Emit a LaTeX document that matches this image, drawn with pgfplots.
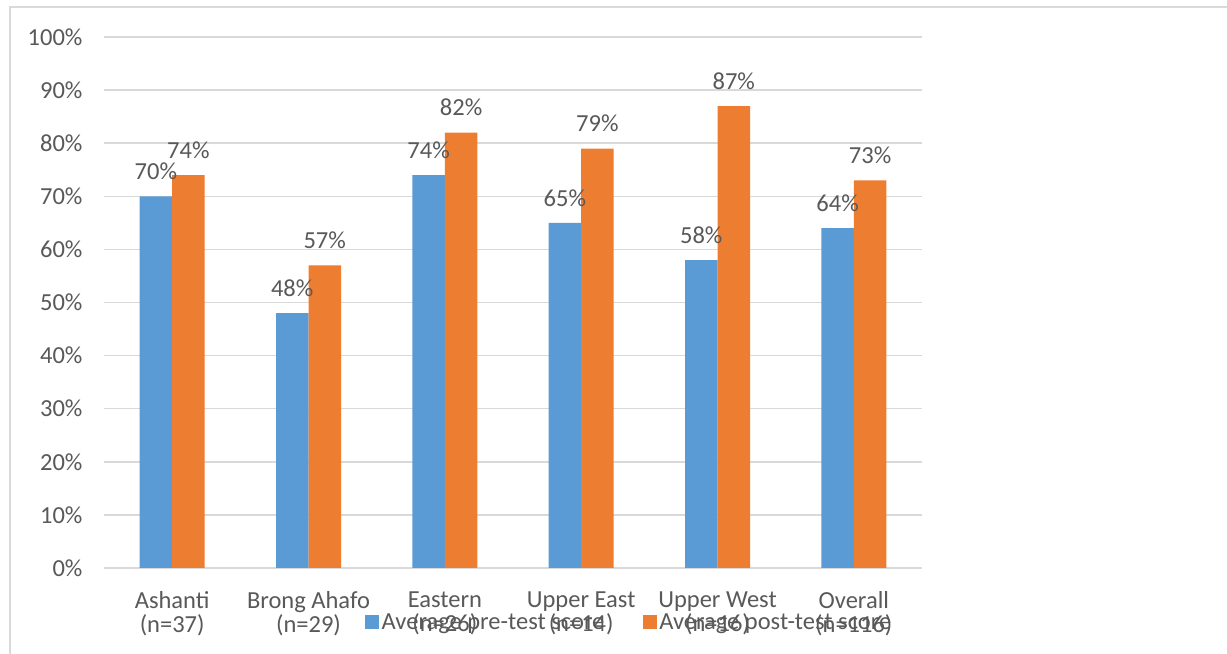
\documentclass[border=0pt]{standalone}
\usepackage{pgfplots}
\pgfplotsset{compat=1.18}
\usepackage{fontspec}
\setmainfont{Carlito}
\definecolor{cblue}{HTML}{5B9BD5}
\definecolor{corange}{HTML}{ED7D31}
\definecolor{cgrid}{HTML}{D9D9D9}
\definecolor{ctext}{HTML}{595959}
\begin{document}
\begin{tikzpicture}
\useasboundingbox (0,0) rectangle (1227bp,654bp);
\fill[white] (0,0) rectangle (1227bp,654bp);
\draw[cgrid, line width=2bp] (10bp,0) -- (10bp,647bp) -- (1227bp,647bp);
\begin{axis}[
  at={(104bp,86bp)}, anchor=south west,
  scale only axis, width=818bp, height=531bp,
  ybar=0pt, bar width=32.5bp,
  xmin=-0.5, xmax=5.5, ymin=0, ymax=100,
  xtick=data,
  xticklabels={{Ashanti\\(n=37)},{Brong Ahafo\\(n=29)},{Eastern\\(n=26)},{Upper East\\(n=14)},{Upper West\\(n=16)},{Overall\\(n=116)}},
  ytick={0,10,...,100},
  yticklabel={\pgfmathprintnumber{\tick}\%},
  /pgf/number format/assume math mode=true,
  font=\fontsize{24.5bp}{24bp}\selectfont,
  ticklabel style={text=ctext, font=\fontsize{24.5bp}{24bp}\selectfont},
  xticklabel style={align=center, anchor=north, yshift=-20bp},
  yticklabel style={anchor=east, xshift=-18bp},
  major tick length=0pt,
  tick style={draw=none},
  ymajorgrids, grid style={cgrid, line width=1.5bp},
  axis x line*=bottom, axis y line*=left,
  x axis line style={cgrid, line width=1.5bp, -},
  y axis line style={draw=none},
  nodes near coords={\pgfmathprintnumber{\pgfplotspointmeta}\%},
  nodes near coords style={text=ctext, font=\fontsize{24.5bp}{24bp}\selectfont, yshift=13bp},
  legend style={at={(0.6424,-0.1017)}, anchor=center, draw=none, fill=none,
    legend columns=2, text=ctext, font=\fontsize{24.5bp}{24bp}\selectfont,
    nodes={inner xsep=2.5bp},
    /tikz/every even column/.append style={column sep=36bp}},
  legend image code/.code={\fill[#1] (0bp,-7bp) rectangle (14bp,7bp);},
]
\addplot[fill=cblue, draw=none] coordinates {(0,70) (1,48) (2,74) (3,65) (4,58) (5,64)};
\addplot[fill=corange, draw=none] coordinates {(0,74) (1,57) (2,82) (3,79) (4,87) (5,73)};
\legend{Average pre-test score, Average post-test score}
\end{axis}
\end{tikzpicture}
\end{document}
